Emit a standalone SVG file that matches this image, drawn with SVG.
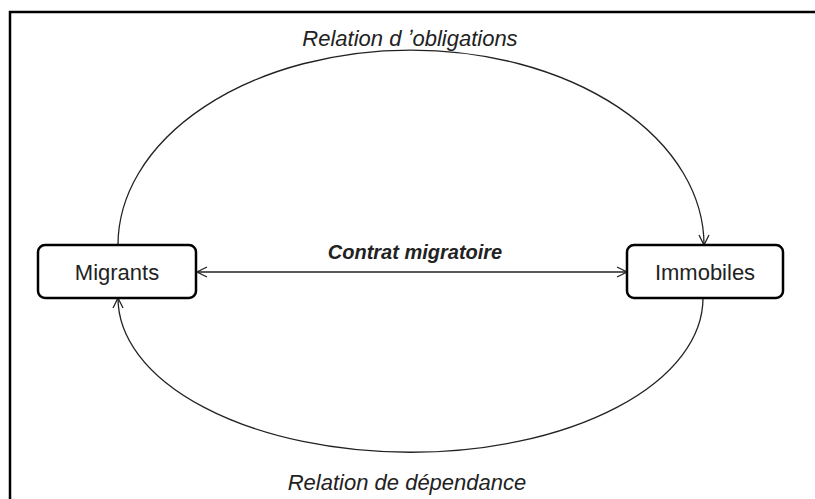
<svg xmlns="http://www.w3.org/2000/svg" width="815" height="499" viewBox="0 0 815 499">
<style>
.node rect{fill:#fff;stroke:#000;stroke-width:2.5}
.node text{font-family:"Liberation Sans",Arial,sans-serif;font-size:22px;fill:#222;text-anchor:middle}
.lbl{font-family:"Liberation Sans",Arial,sans-serif;font-size:22px;font-style:italic;fill:#222;text-anchor:middle}
.lbl.main{font-size:20px;font-weight:bold}
.conn path{fill:none;stroke:#222;stroke-width:1.3}
</style>
<defs>
<marker id="ah" viewBox="0 0 12 12" refX="11" refY="6" markerWidth="12" markerHeight="12" markerUnits="userSpaceOnUse" orient="auto-start-reverse">
<path d="M1,1 L11,6 L1,11" fill="none" stroke="#222" stroke-width="1.3"/>
</marker>
</defs>
<rect x="10" y="12" width="820" height="500" fill="#fff" stroke="#000" stroke-width="2.5"/>
<g class="conn">
<path d="M118,245 A293,195 0 0 1 704,245" marker-end="url(#ah)"/>
<path d="M703,298 A292,154 0 0 1 118,298" marker-end="url(#ah)"/>
<path d="M197,272 L627,272" marker-start="url(#ah)" marker-end="url(#ah)"/>
</g>
<g id="migrants" class="node">
<rect x="38" y="245" width="158" height="53" rx="7"/>
<text x="117" y="280">Migrants</text>
</g>
<g id="immobiles" class="node">
<rect x="627" y="245" width="156" height="53" rx="7"/>
<text x="705" y="280">Immobiles</text>
</g>
<text class="lbl" x="410" y="46">Relation d ʼobligations</text>
<text class="lbl main" x="415" y="259">Contrat migratoire</text>
<text class="lbl" x="407" y="490">Relation de dépendance</text>
</svg>
